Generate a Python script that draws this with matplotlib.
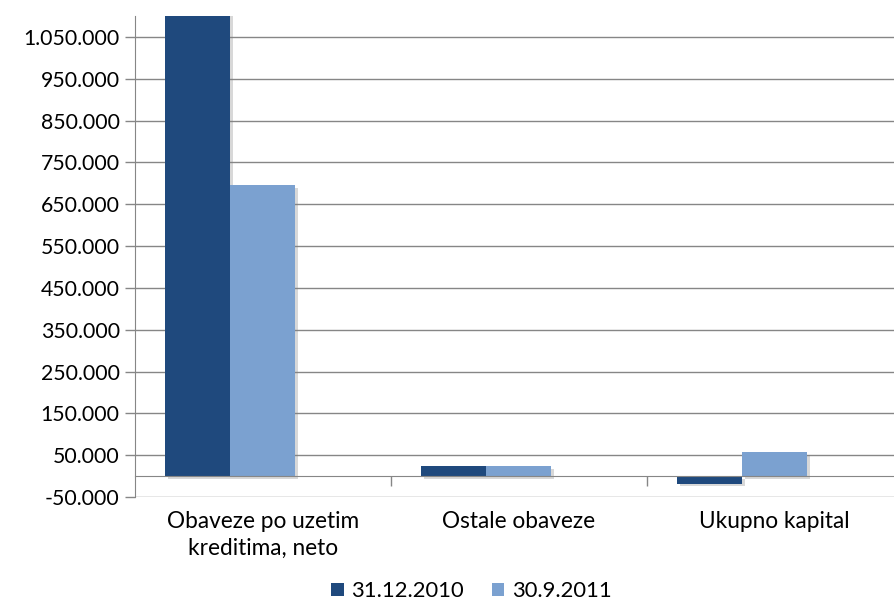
import matplotlib
matplotlib.use("Agg")
import matplotlib.pyplot as plt
import matplotlib.patheffects as pe
from matplotlib.ticker import FuncFormatter
import matplotlib.transforms as mtransforms
import numpy as np

plt.rcParams['font.family'] = ['Lato', 'DejaVu Sans']

# podaci
categories = ['Obaveze po uzetim\nkreditima, neto', 'Ostale obaveze', 'Ukupno kapital']
series_names = ['31.12.2010', '30.9.2011']
vals_2010 = [1180000, 24000, -18000]
vals_2011 = [696000, 24000, 57000]
colors = ['#1F497D', '#7BA1D0']

fig = plt.figure(figsize=(8.95, 6.1), dpi=100)
ax = fig.add_axes([135 / 895, 1 - 497 / 610, 1 - 135 / 895, (497 - 16) / 610])

x = np.arange(len(categories))
w = 0.254
shadow = [pe.SimplePatchShadow(offset=(2, -2), shadow_rgbFace='#808080', alpha=0.3), pe.Normal()]
for off, vals, col, name in [(-w, vals_2010, colors[0], series_names[0]),
                             (0, vals_2011, colors[1], series_names[1])]:
    bars = ax.bar(x + off, vals, width=w, color=col, label=name, zorder=3)
    for b in bars:
        b.set_path_effects(shadow)

ax.set_xlim(-0.5, 2.47)
ax.set_ylim(-50000, 1100000)

# y osa
ax.set_yticks(np.arange(-50000, 1100001, 100000))
ax.yaxis.set_major_formatter(FuncFormatter(lambda v, p: f'{v:,.0f}'.replace(',', '.')))
ax.tick_params(axis='y', length=7, width=1, color='#868686', labelsize=15.3, pad=4)
ax.grid(axis='y', color='#868686', linewidth=1, zorder=0)
ax.set_axisbelow(True)

# x osa na nuli
for s in ['top', 'right']:
    ax.spines[s].set_visible(False)
ax.spines['left'].set_color('#868686')
ax.spines['bottom'].set_color('#868686')
ax.spines['bottom'].set_position(('data', 0))
ax.spines['bottom'].set_zorder(4)
ax.set_xticks([0.5, 1.5])
ax.set_xticklabels([])
ax.tick_params(axis='x', length=7, width=1, color='#868686', direction='out')

trans = mtransforms.blended_transform_factory(ax.transData, ax.transAxes)
for xi, lab in zip(x, categories):
    ax.text(xi, -0.03, lab, transform=trans, ha='center', va='top',
            fontsize=16.3, linespacing=1.32)

handles, labels = ax.get_legend_handles_labels()
leg = fig.legend(handles, labels, loc='lower center', bbox_to_anchor=(0.527, -0.018),
                 ncol=2, frameon=False, fontsize=15.8, handlelength=0.55,
                 handleheight=0.55, handletextpad=0.35, columnspacing=1.3)
for h in leg.legend_handles:
    h.set_path_effects([])

fig.savefig('out.png', dpi=100)
